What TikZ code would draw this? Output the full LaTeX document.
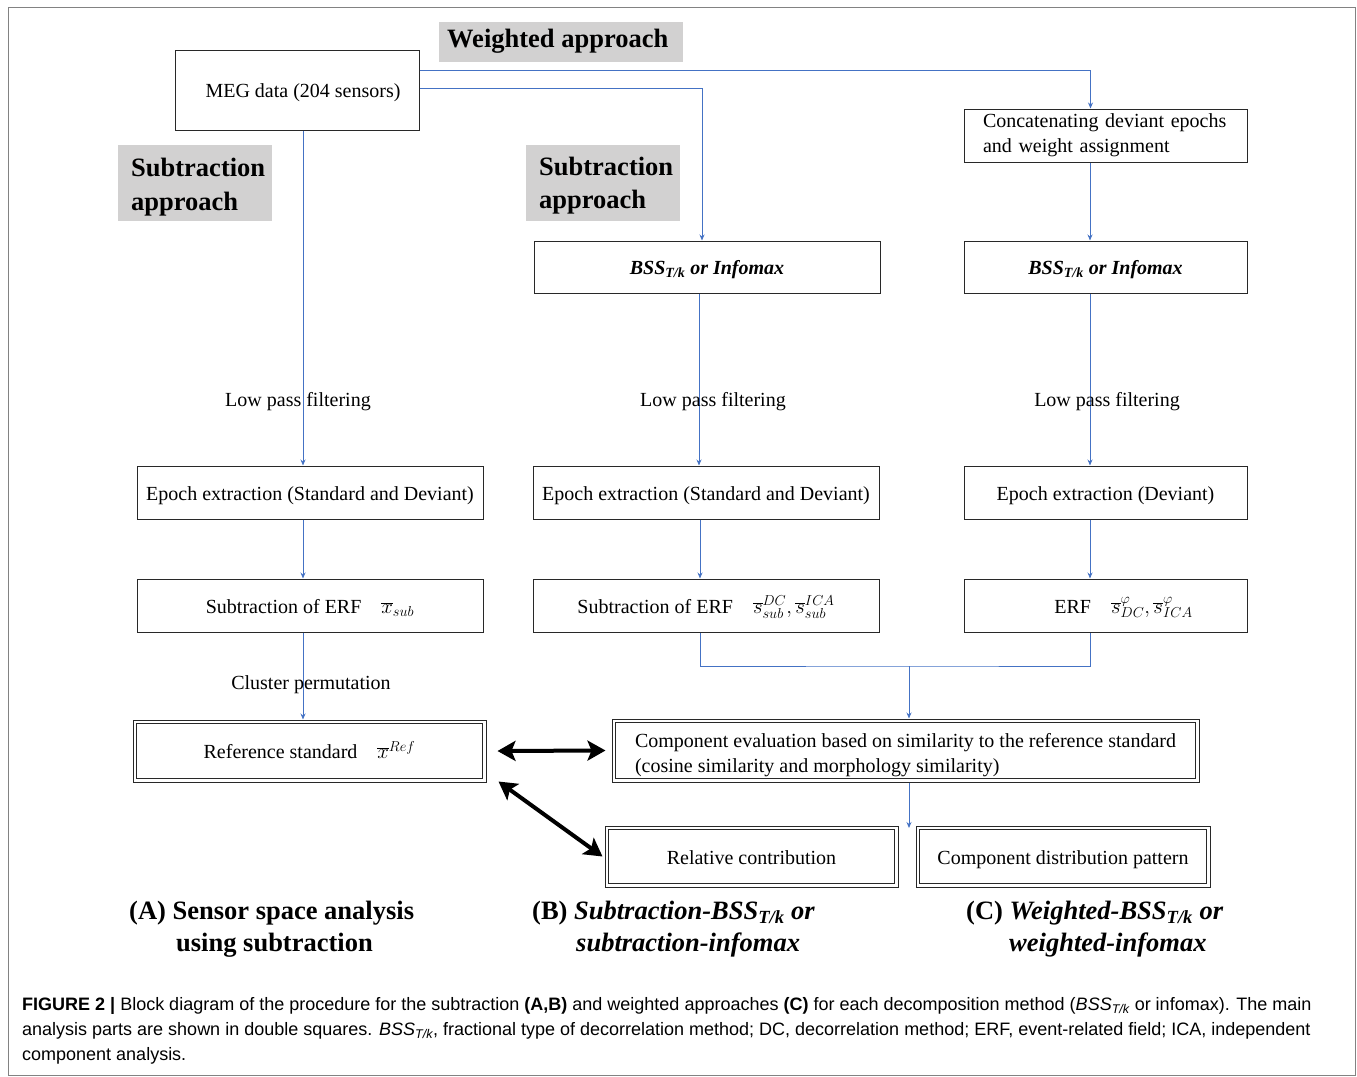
\documentclass[tikz,border=0pt]{standalone}
\usepackage{fontspec}
\setmainfont{Liberation Serif}
\newfontfamily\capfont{Liberation Sans}
\usetikzlibrary{arrows.meta}
\definecolor{flowblue}{RGB}{68,114,196}
\definecolor{tagGray}{RGB}{210,209,209}
\definecolor{frameGray}{RGB}{130,130,130}
\definecolor{boxline}{RGB}{40,40,40}
\newcommand{\fsz}[2]{\fontsize{#1}{#2}\selectfont}
\newcommand{\mth}[1]{{\fsz{22}{25}$#1$}}
\tikzset{
  box/.style={draw=boxline, line width=1pt, fill=white, inner sep=0pt, font=\fsz{20}{25}},
  onel/.style={text height=20pt, text depth=4.5pt},
  inner/.style={draw=boxline, line width=1pt},
  tag/.style={fill=tagGray, inner sep=0pt},
  tagtext/.style={font=\fsz{26.5}{34}\bfseries, inner sep=0pt, anchor=base west},
  flow/.style={draw=flowblue, line width=0.9pt, -{Stealth[length=6pt,width=5pt]}},
  flowline/.style={draw=flowblue, line width=0.9pt},
  lbl/.style={font=\fsz{20}{25}, inner sep=0pt},
  bigarrow/.style={line width=4pt, {Stealth[length=18pt,width=20pt,inset=4pt]}-{Stealth[length=18pt,width=20pt,inset=4pt]}},
  sectlbl/.style={font=\fsz{26.5}{32}\bfseries, inner sep=0pt, anchor=base west},
  caption/.style={font=\capfont\fsz{18}{25}, inner sep=0pt, anchor=base west},
}
\begin{document}
\begin{tikzpicture}[x=1pt,y=-1pt]
\useasboundingbox (0,0) rectangle (1357,1076);
\draw[frameGray, line width=0.8pt] (8,7) rectangle (1355,1075);

% tags
\node[tag, minimum width=244, minimum height=40] (wa) at (561,42) {};
\node[tagtext] (watext) at (447,47) {Weighted approach};
\node[tag, minimum width=154, minimum height=76] (saL) at (195,183) {};
\node[tagtext] (saLt1) at (131,176) {Subtraction};
\node[tagtext] (saLt2) at (131,210) {approach};
\node[tag, minimum width=154, minimum height=76] (saM) at (603,183) {};
\node[tagtext] (saMt1) at (539,175) {Subtraction};
\node[tagtext] (saMt2) at (539,208) {approach};

% boxes
\node[box, onel, minimum width=244, minimum height=80] (meg) at (297,90) {\hspace*{12pt}MEG data (204 sensors)};
\node[box, minimum width=283, minimum height=53, text width=245, inner xsep=19pt, align=left] (concat) at (1105.5,135.5) {Concatenating deviant epochs\\and weight assignment};
\node[box, onel, minimum width=346, minimum height=52] (bssB) at (707,267) {\textbf{\textit{BSS\textsubscript{T/k} or Infomax}}};
\node[box, onel, minimum width=283, minimum height=52] (bssC) at (1105.5,267) {\textbf{\textit{BSS\textsubscript{T/k} or Infomax}}};

\node[box, onel, minimum width=346, minimum height=53] (epA) at (310,492.5) {Epoch extraction (Standard and Deviant)};
\node[box, onel, minimum width=346, minimum height=53] (epB) at (706,492.5) {Epoch extraction (Standard and Deviant)};
\node[box, onel, minimum width=283, minimum height=53] (epC) at (1105.5,492.5) {Epoch extraction (Deviant)};

\node[box, onel, minimum width=346, minimum height=53] (erfA) at (310,605.5) {Subtraction of ERF\quad \mth{\overline{x}_{sub}}};
\node[box, onel, minimum width=346, minimum height=53] (erfB) at (706,605.5) {Subtraction of ERF\quad \mth{\overline{s}^{DC}_{sub}, \overline{s}^{ICA}_{sub}}};
\node[box, onel, minimum width=283, minimum height=53] (erfC) at (1105.5,605.5) {\hspace*{36pt}ERF\quad \mth{\overline{s}^{\varphi}_{DC}, \overline{s}^{\varphi}_{ICA}}};

% double boxes
\node[box, onel, minimum width=353, minimum height=62] (ref) at (309.5,751) {Reference standard\quad \mth{\overline{x}^{Ref}}};
\draw[inner] ([shift={(4,4)}]ref.north west) rectangle ([shift={(-4,-4)}]ref.south east);
\node[box, minimum width=587, minimum height=63, align=left] (comp) at (905.5,750.5) {\rule{0pt}{23pt}Component evaluation based on similarity to the reference standard\\(cosine similarity and morphology similarity)};
\draw[inner] ([shift={(4,4)}]comp.north west) rectangle ([shift={(-4,-4)}]comp.south east);
\node[box, onel, minimum width=293, minimum height=61] (rel) at (751.5,856.5) {Relative contribution};
\draw[inner] ([shift={(4,4)}]rel.north west) rectangle ([shift={(-4,-4)}]rel.south east);
\node[box, onel, minimum width=294, minimum height=61] (cdp) at (1063,856.5) {Component distribution pattern};
\draw[inner] ([shift={(4,4)}]cdp.north west) rectangle ([shift={(-4,-4)}]cdp.south east);

% connectors
\draw[flow] ([yshift=20]meg.east) -| ([xshift=-15]concat.north);
\draw[flow] ([yshift=2]meg.east) -| ([xshift=-5]bssB.north);
\draw[flow] ([xshift=-15.5]concat.south) -- ([xshift=-15.5]bssC.north);
\draw[flow] ([xshift=6]meg.south) -- ([xshift=-7]epA.north);
\draw[flow] ([xshift=-8]bssB.south) -- ([xshift=-7]epB.north);
\draw[flow] ([xshift=-15.5]bssC.south) -- ([xshift=-15.5]epC.north);
\node[lbl] (lpA) at (298,402) {Low pass filtering};
\node[lbl] (lpB) at (713,402) {Low pass filtering};
\node[lbl] (lpC) at (1107,402) {Low pass filtering};
\draw[flow] ([xshift=-7]epA.south) -- ([xshift=-7]erfA.north);
\draw[flow] ([xshift=-6]epB.south) -- ([xshift=-6]erfB.north);
\draw[flow] ([xshift=-15.5]epC.south) -- ([xshift=-15.5]erfC.north);
\draw[flow] ([xshift=-7]erfA.south) -- ([xshift=-6.5]ref.north);
\node[lbl] (cp) at (311,685) {Cluster permutation};
\coordinate (j) at (909,666);
\draw[flowline] ([xshift=-6]erfB.south) |- (j) -| ([xshift=-15.5]erfC.south);
\draw[flow] (j) -- (j |- comp.north);
\coordinate (split) at (909,828);
\draw[flow] ([xshift=3.5]comp.south) -- (split);

\draw[bigarrow] ([xshift=11]ref.east) -- ([xshift=-6]comp.west);
\draw[bigarrow] ([shift={(12,-1)}]ref.south east) -- ([shift={(-2,0)}]rel.west);

% section labels
\node[sectlbl] (la1) at (129,919) {(A) Sensor space analysis};
\node[sectlbl] (la2) at (176,951) {using subtraction};
\node[sectlbl] (lb1) at (532,919) {(B) \textit{Subtraction-BSS\textsubscript{T/k} or}};
\node[sectlbl] (lb2) at (576,951) {\textit{subtraction-infomax}};
\node[sectlbl] (lc1) at (966,919) {(C) \textit{Weighted-BSS\textsubscript{T/k} or}};
\node[sectlbl] (lc2) at (1009,951) {\textit{weighted-infomax}};

% caption
\node[caption] (cap1) at (22,1010) {\textbf{FIGURE 2 |} Block diagram of the procedure for the subtraction \textbf{(A,B)} and weighted approaches \textbf{(C)} for each decomposition method (\textit{BSS\textsubscript{T/k}} or infomax). The main};
\node[caption] (cap2) at (22,1035) {analysis parts are shown in double squares. \textit{BSS\textsubscript{T/k}}, fractional type of decorrelation method; DC, decorrelation method; ERF, event-related field; ICA, independent};
\node[caption] (cap3) at (22,1060) {component analysis.};
\end{tikzpicture}
\end{document}
